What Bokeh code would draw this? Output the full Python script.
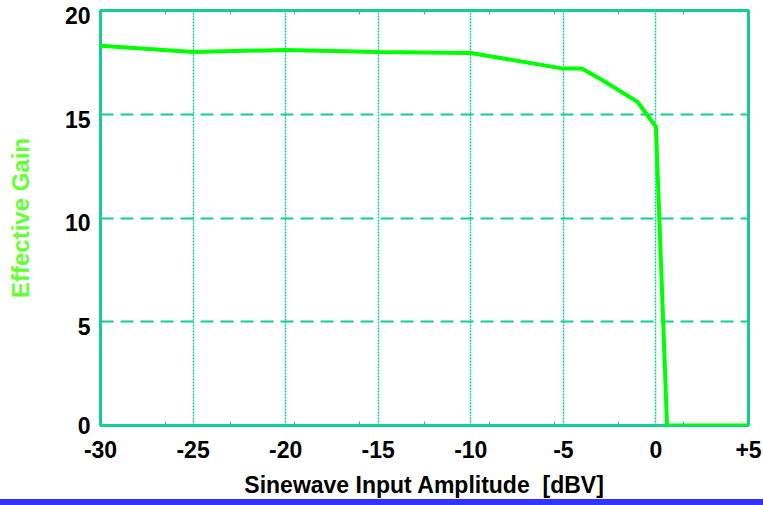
from bokeh.plotting import figure
from bokeh.models import FixedTicker, Range1d, Div, LinearAxis
from bokeh.layouts import column
from bokeh.embed import file_html
from bokeh.resources import INLINE

# Data
amplitude_dbv = [-30, -25, -20, -15, -10, -5, -4, -3, -1, 0, 0.6, 5]
effective_gain = [18.3, 18.0, 18.1, 18.0, 17.95, 17.2, 17.2, 16.7, 15.6, 14.4, 0.0, 0.0]

x_ticks = [-30, -25, -20, -15, -10, -5, 0, 5]
x_tick_labels = ["-30", "-25", "-20", "-15", "-10", "-5", "0", "+5"]
x_minor = [-26.5, -23, -19.5, -16, -12.5, -9, -5.5, -2, 1.5]
y_ticks = [0, 5, 10, 15, 20]
y_tick_labels = ["0", "5", "10", "15", "20"]

TEAL = "#14cc99"
FONT = "Liberation Sans"
Y_LABEL_SHIFT = 0.24   # tick labels sit ~5px below their gridline in the original

p = figure(width=763, height=505, output_backend="svg", toolbar_location=None,
           x_range=Range1d(-30, 5), y_range=Range1d(0, 20),
           min_border_left=100, min_border_right=15, min_border_top=10, min_border_bottom=80)
p.background_fill_color = "white"
p.border_fill_color = "white"
p.outline_line_color = TEAL
p.outline_line_width = 3

# x axis
p.xaxis.ticker = FixedTicker(ticks=x_ticks, minor_ticks=x_minor)
p.xaxis.major_label_overrides = {t: l for t, l in zip(x_ticks, x_tick_labels)}
p.xaxis.axis_line_color = None
p.xaxis.major_tick_in = 0
p.xaxis.major_tick_out = 0
p.xaxis.minor_tick_in = 4
p.xaxis.minor_tick_out = 0
p.xaxis.minor_tick_line_color = TEAL
p.xaxis.minor_tick_line_width = 1
p.xaxis.major_label_standoff = 15
p.xaxis.major_label_text_font = FONT
p.xaxis.major_label_text_font_style = "bold"
p.xaxis.major_label_text_font_size = "23px"
p.xaxis.major_label_text_color = "black"
p.xaxis.axis_label = "Sinewave Input Amplitude\u00a0 [dBV]"
p.xaxis.axis_label_text_font = FONT
p.xaxis.axis_label_text_font_style = "bold"
p.xaxis.axis_label_text_font_size = "23px"
p.xaxis.axis_label_text_color = "black"
p.xaxis.axis_label_standoff = 11

# top minor ticks
top_axis = LinearAxis(ticker=FixedTicker(ticks=[], minor_ticks=x_minor),
                      axis_line_color=None,
                      major_tick_in=0, major_tick_out=0,
                      minor_tick_in=4, minor_tick_out=0,
                      minor_tick_line_color=TEAL, minor_tick_line_width=1,
                      major_label_standoff=0)
p.add_layout(top_axis, "above")

# y axis: default one hidden, labels on a range shifted slightly so they sit below the gridlines
p.yaxis.visible = False
p.extra_y_ranges = {"labels": Range1d(Y_LABEL_SHIFT, 20 + Y_LABEL_SHIFT)}
label_pos = [max(t, Y_LABEL_SHIFT) for t in y_ticks]
y_axis = LinearAxis(y_range_name="labels",
                    ticker=FixedTicker(ticks=label_pos, minor_ticks=[]),
                    major_label_overrides={pos: lab for pos, lab in zip(label_pos, y_tick_labels)},
                    axis_line_color=None, major_tick_in=0, major_tick_out=0,
                    major_label_standoff=10,
                    major_label_text_font=FONT, major_label_text_font_style="bold",
                    major_label_text_font_size="23px", major_label_text_color="black",
                    axis_label="Effective Gain", axis_label_text_font=FONT,
                    axis_label_text_font_style="bold", axis_label_text_font_size="24px",
                    axis_label_text_color="#66ff33", axis_label_standoff=28)
p.add_layout(y_axis, "left")

# grids
p.xgrid.grid_line_color = TEAL
p.xgrid.grid_line_dash = "2 1"
p.xgrid.grid_line_width = 1.5
p.ygrid.ticker = FixedTicker(ticks=y_ticks, minor_ticks=[])
p.ygrid.grid_line_color = TEAL
p.ygrid.grid_line_dash = "13 7"
p.ygrid.grid_line_width = 2

p.line(amplitude_dbv, effective_gain, line_color="#00ff00", line_width=4)

bar = Div(text="", width=763, height=6, margin=(-6, 0, 0, 0),
          styles={"background-color": "#3333ff"})

layout = column(p, bar, spacing=0)
open("out.html", "w").write(file_html(layout, INLINE))
